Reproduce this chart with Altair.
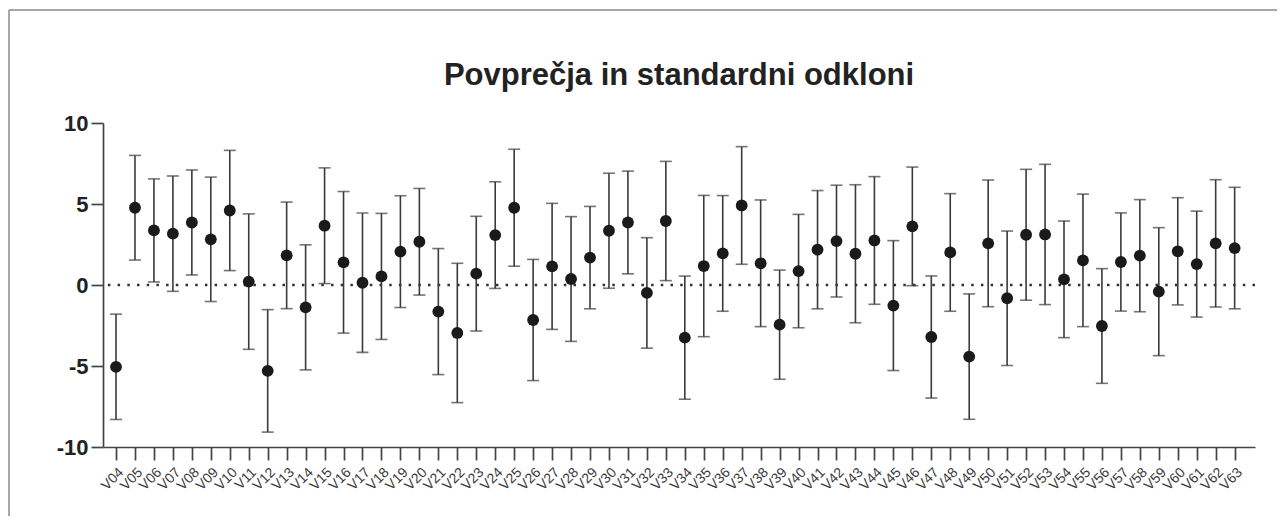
import altair as alt
import pandas as pd

labels = ["V04", "V05", "V06", "V07", "V08", "V09", "V10", "V11", "V12", "V13",
          "V14", "V15", "V16", "V17", "V18", "V19", "V20", "V21", "V22", "V23",
          "V24", "V25", "V26", "V27", "V28", "V29", "V30", "V31", "V32", "V33",
          "V34", "V35", "V36", "V37", "V38", "V39", "V40", "V41", "V42", "V43",
          "V44", "V45", "V46", "V47", "V48", "V49", "V50", "V51", "V52", "V53",
          "V54", "V55", "V56", "V57", "V58", "V59", "V60", "V61", "V62", "V63"]

means = [-5.05, 4.77, 3.37, 3.17, 3.86, 2.82, 4.60, 0.21, -5.30, 1.83,
         -1.38, 3.66, 1.40, 0.14, 0.53, 2.06, 2.67, -1.64, -2.96, 0.70,
         3.08, 4.77, -2.16, 1.15, 0.37, 1.69, 3.35, 3.86, -0.49, 3.95,
         -3.25, 1.17, 1.95, 4.91, 1.34, -2.45, 0.86, 2.18, 2.71, 1.93,
         2.75, -1.27, 3.62, -3.21, 2.01, -4.42, 2.57, -0.82, 3.10, 3.12,
         0.35, 1.52, -2.53, 1.42, 1.81, -0.41, 2.08, 1.29, 2.57, 2.28]

sds = [3.25, 3.23, 3.18, 3.56, 3.24, 3.84, 3.71, 4.18, 3.78, 3.29,
       3.86, 3.57, 4.37, 4.30, 3.89, 3.45, 3.29, 3.89, 4.30, 3.54,
       3.29, 3.61, 3.74, 3.89, 3.85, 3.16, 3.55, 3.17, 3.41, 3.68,
       3.80, 4.36, 3.57, 3.63, 3.91, 3.37, 3.50, 3.65, 3.45, 4.26,
       3.94, 4.01, 3.66, 3.77, 3.63, 3.87, 3.91, 4.15, 4.04, 4.33,
       3.60, 4.09, 3.54, 3.03, 3.46, 3.95, 3.31, 3.27, 3.93, 3.75]

title_text = "Povprečja in standardni odkloni"

df = pd.DataFrame({"v": labels, "m": means, "sd": sds})
df["lo"] = df["m"] - df["sd"]
df["hi"] = df["m"] + df["sd"]

FONT = "Liberation Sans"
DARK = "#3a3a3a"

xscale = alt.Scale(type="point", padding=0.88, align=0.39)
xaxis = alt.Axis(labelAngle=-45, labelFontSize=14, labelColor="#3a3a3a", labelFont=FONT,
                 tickSize=13, tickWidth=1.7, tickColor="#444", domainColor="#444",
                 domainWidth=1.7, title=None, labelPadding=5)
yscale = alt.Scale(domain=[-10, 10], nice=False, zero=False)
yaxis = alt.Axis(values=[-10, -5, 0, 5, 10], labelFontSize=22, labelFontWeight="bold",
                 labelColor="#222", labelFont=FONT, tickSize=12, tickWidth=1.7,
                 tickColor="#444", domainColor="#444", domainWidth=1.7, grid=False,
                 title=None, labelPadding=3, labelExpr="datum.value + ''")

base = alt.Chart(df)
X = alt.X("v:N", sort=labels, scale=xscale, axis=xaxis)

bars = base.mark_rule(strokeWidth=1.6, color=DARK).encode(
    x=X, y=alt.Y("lo:Q", scale=yscale, axis=yaxis), y2="hi:Q")
cap_lo = base.mark_tick(size=12, thickness=1.6, color=DARK, orient="horizontal").encode(
    x=X, y=alt.Y("lo:Q", scale=yscale, axis=yaxis))
cap_hi = base.mark_tick(size=12, thickness=1.6, color=DARK, orient="horizontal").encode(
    x=X, y=alt.Y("hi:Q", scale=yscale, axis=yaxis))
pts = base.mark_circle(size=140, color="#1a1a1a", opacity=1).encode(
    x=X, y=alt.Y("m:Q", scale=yscale, axis=yaxis))

zero = alt.Chart(pd.DataFrame({"z": [0]})).mark_rule(
    strokeDash=[2.5, 7.2], strokeWidth=2.6, color="#333").encode(
    y=alt.Y("z:Q", scale=yscale, axis=yaxis))

title = alt.Chart(pd.DataFrame({"t": [title_text]})).mark_text(
    fontSize=31, fontWeight="bold", font=FONT, color="#222",
    align="center", baseline="alphabetic").encode(
    x=alt.value(576), y=alt.value(-38), text="t:N")

border_top = alt.Chart(pd.DataFrame({"a": [0]})).mark_rule(
    color="#8a8a8a", strokeWidth=1.5).encode(
    x=alt.value(-94), x2=alt.value(1182), y=alt.value(-113))
border_left = alt.Chart(pd.DataFrame({"a": [0]})).mark_rule(
    color="#8a8a8a", strokeWidth=1.5).encode(
    x=alt.value(-94), y=alt.value(-113), y2=alt.value(420))

chart = alt.layer(zero, bars, cap_lo, cap_hi, pts, title, border_top, border_left).properties(
    width=1152, height=324,
    padding={"left": 95, "top": 115, "right": 22, "bottom": 69},
    autosize=alt.AutoSizeParams(type="none"),
).configure(font=FONT).configure_view(stroke="transparent", strokeWidth=0)

chart.save("out.html", embed_options={"renderer": "svg", "actions": False})
